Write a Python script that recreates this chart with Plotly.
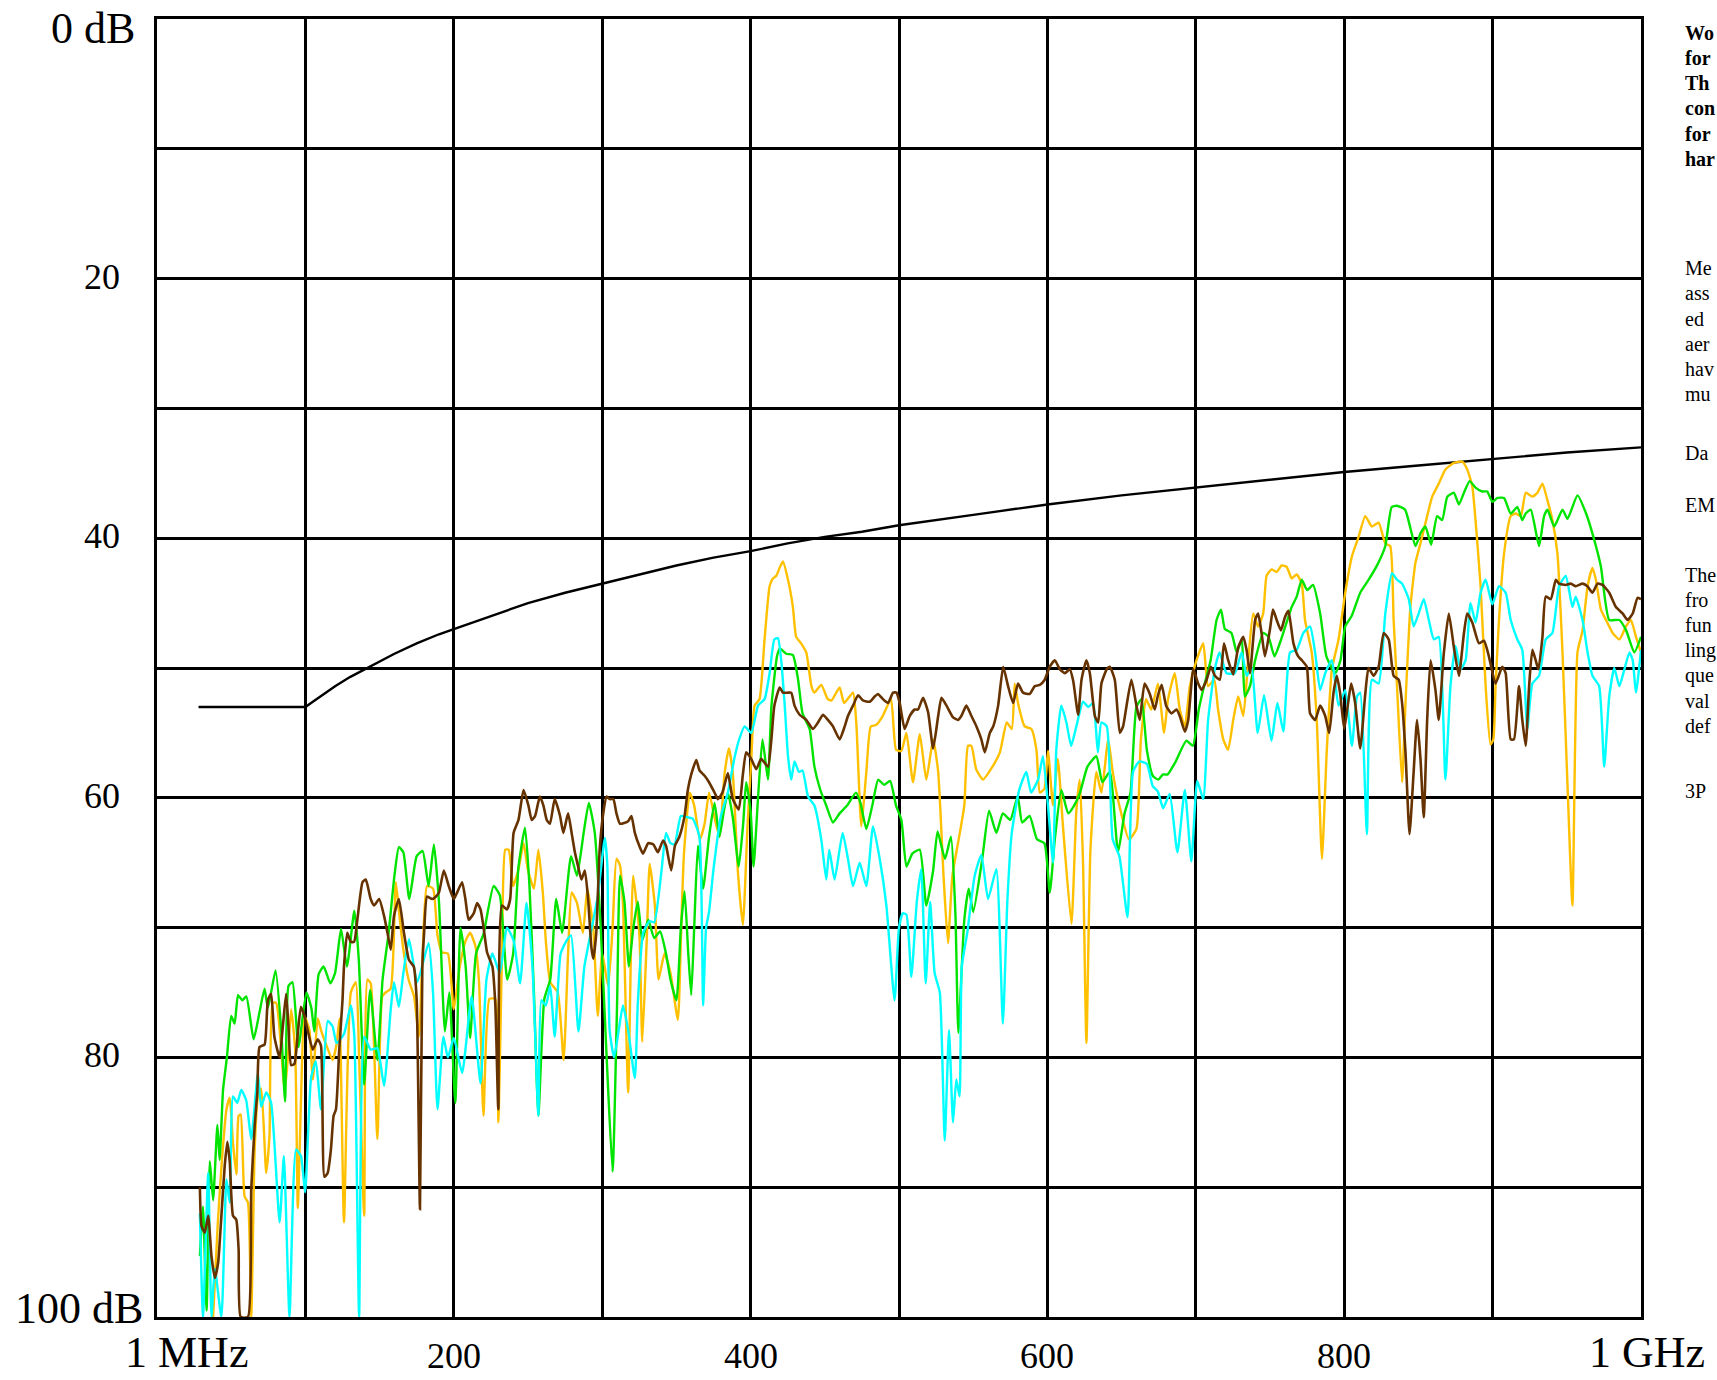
import plotly.graph_objects as go

# ---------------- data (frequency in MHz, attenuation in dB) ----------------
limit_pts = [(28, 53.0), (100, 53.0), (105, 52.6), (110, 52.2), (115, 51.8), (120, 51.4), (130, 50.7),
             (140, 50.1), (150, 49.5), (160, 48.9), (175, 48.1), (190, 47.4), (200, 47.0), (225, 46.0),
             (250, 45.0), (275, 44.2), (300, 43.5), (325, 42.8), (350, 42.1), (375, 41.5), (400, 41.0),
             (425, 40.4), (450, 39.9), (475, 39.5), (500, 39.0), (550, 38.2), (600, 37.4), (650, 36.7),
             (700, 36.1), (750, 35.5), (800, 34.9), (850, 34.4), (900, 33.9), (950, 33.4), (1000, 33.0)]

orange_pts = [(37.8,100),(41.0,92.7),(43.7,88.0),(46.8,84.0),(49.0,83.1),(51.2,86.6),(53.5,89.0),(55.0,84.5),
 (56.4,84.4),(59.0,90.7),(61.3,91.2),(63.5,100),(65.8,87.1),(68.0,83.0),(70.2,82.4),(73.6,88.9),(75.8,86.0),
 (78.0,75.8),(80.3,75.8),(83.7,79.4),(86.0,82.7),(88.2,80.0),(90.4,76.3),(93.1,79.4),(94.9,91.6),(97.1,83.0),
 (99.3,76.8),(102.7,77.9),(105.0,81.7),(108.3,77.0),(110.5,77.9),(113.9,79.0),(118.3,80.2),(121.0,79.0),
 (123.0,77.0),(126.0,92.7),(130.6,75.0),(134.0,74.2),(136.2,80.0),(139.6,92.2),(141.8,74.0),(144.0,74.3),
 (148.5,86.3),(151.8,75.3),(154.0,75.0),(157.5,74.7),(160.9,66.5),(163.0,68.7),(166.0,71.7),(169.5,74.0),
 (173.2,75.3),(176.5,78.4),(179.0,72.0),(182.0,66.8),(186.0,67.0),(189.0,70.6),(192.0,71.9),(196.0,72.0),
 (200.0,76.3),(204.0,73.0),(208.0,71.0),(211.0,70.4),(214.5,71.4),(217.0,74.2),(220.0,84.5),(224.0,75.5),
 (228.0,75.5),(230.0,85.0),(232.5,72.0),(234.7,64.0),(237.0,64.0),(240.0,66.8),(243.6,65.5),(247.0,63.5),
 (250.0,65.6),(254.0,67.0),(257.0,64.0),(260.0,67.3),(262.0,71.0),(265.0,74.2),(270.0,75.0),(274.0,80.2),
 (277.0,72.0),(279.4,67.3),(283.0,68.1),(287.0,70.4),(290.0,67.0),(294.0,70.1),(297.0,76.8),(300.0,72.0),
 (304.0,74.5),(307.0,70.0),(309.6,64.7),(312.0,65.2),(314.0,68.2),(317.5,82.7),(320.8,66.0),(325.0,70.4),
 (327.0,78.8),(330.0,71.0),(332.0,65.1),(335.5,68.3),(338.0,74.0),(342.0,72.0),(346.0,73.5),(351.0,77.1),
 (353.0,71.0),(355.0,64.5),(359.0,59.6),(362.0,60.6),(365.8,63.2),(369.0,62.0),(372.0,59.6),(375.5,61.4),
 (379.0,63.0),(382.5,58.1),(385.4,56.2),(388.0,58.1),(391.5,65.8),(394.8,69.8),(398.0,62.0),(400.5,57.0),
 (402.7,52.9),(406.0,52.4),(409.4,47.8),(412.8,43.7),(415.0,43.1),(417.3,42.9),(419.5,42.3),(421.8,41.8),
 (425.2,43.2),(428.5,45.3),(430.7,47.6),(434.0,48.1),(437.5,48.8),(441.0,51.4),(443.0,51.9),(447.6,51.3),
 (452.0,52.4),(454.5,52.5),(460.0,51.5),(463.0,52.7),(469.0,51.9),(471.2,54.2),(474.6,62.2),(478.0,58.0),
 (481.0,54.5),(484.5,54.4),(489.0,53.7),(494.6,52.4),(498.0,56.3),(501.5,56.4),(505.0,55.0),(509.4,58.8),
 (514.0,55.1),(518.4,58.6),(523.0,55.5),(526.4,58.0),(530.0,66.0),(533.0,71.2),(536.0,66.0),(541.0,62.7),
 (544.0,60.6),(546.5,56.0),(548.8,56.0),(552.0,57.8),(556.6,58.6),(563.0,57.6),(568.0,56.5),(572.6,54.2),
 (576.0,54.7),(578.0,51.2),(580.2,52.7),(584.7,54.5),(589.2,54.7),(592.6,56.3),(594.9,59.6),(598.0,59.3),
 (600.4,56.4),(603.8,60.6),(607.0,57.0),(610.5,62.2),(616.2,69.7),(619.5,61.0),(621.8,58.6),(624.0,65.0),
 (626.3,78.9),(629.0,64.0),(633.0,58.0),(636.4,59.6),(641.0,55.5),(644.0,58.0),(648.5,60.6),(655.0,63.2),
 (660.0,62.4),(663.0,55.5),(666.5,52.4),(670.0,53.2),(674.5,51.2),(678.6,55.0),(681.3,52.4),(685.8,50.4),
 (689.2,53.2),(692.6,54.5),(696.0,51.4),(700.5,49.4),(705.0,48.1),(708.3,51.4),(712.4,50.9),(715.0,53.2),
 (718.5,55.5),(721.8,56.3),(725.2,54.0),(728.6,52.2),(732.0,53.7),(735.3,49.4),(738.7,45.8),(742.0,46.8),
 (745.4,45.8),(747.7,42.9),(751.1,42.4),(754.5,42.6),(757.9,42.1),(761.2,42.2),(764.6,43.1),(768.0,42.8),
 (771.4,43.5),(773.6,46.3),(778.1,48.8),(781.5,54.0),(785.0,64.7),(788.2,56.5),(791.7,50.1),(796.2,47.8),
 (800.7,44.2),(805.2,41.4),(809.7,39.9),(814.2,38.3),(818.7,39.1),(823.2,38.8),(827.7,40.4),(831.0,40.6),
 (833.3,46.3),(835.6,51.4),(839.0,58.8),(841.3,52.7),(844.6,45.3),(848.0,41.9),(851.4,40.4),(855.9,38.3),
 (859.3,36.8),(863.7,35.8),(868.2,34.7),(873.9,34.2),(879.5,34.1),(882.9,34.7),(886.3,36.0),(888.5,38.6),
 (891.9,43.7),(895.3,51.4),(898.6,55.9),(900.5,55.5),(902.0,51.4),(904.3,46.3),(907.7,41.2),(912.2,38.3),
 (915.6,38.1),(919.0,38.3),(922.3,36.5),(926.8,36.8),(930.2,36.5),(933.6,35.8),(937.0,37.1),(940.3,38.6),
 (943.7,41.2),(947.1,48.8),(950.5,59.1),(953.8,68.3),(957.2,48.8),(960.6,47.1),(964.0,43.7),(967.3,42.3),
 (969.6,43.2),(973.0,45.5),(976.4,46.3),(980.9,47.3),(985.4,47.8),(989.9,46.8),(993.2,46.3),(996.6,47.6),
 (1000.0,48.8)]

green_pts = [(28.9,95.3),(31.0,91.5),(33.4,99.5),(35.6,88.0),(37.8,91.0),(40.7,85.2),(42.2,87.9),(44.5,82.5),
 (47.1,80.0),(50.0,76.8),(52.3,77.4),(54.6,75.2),(57.5,75.6),(60.2,75.3),(65.1,78.6),(69.1,76.5),(72.5,74.7),
 (74.7,76.2),(79.9,73.3),(83.7,77.9),(86.3,83.4),(88.6,74.5),(91.3,74.2),(95.3,79.2),(100.7,75.0),(104.0,76.2),
 (106.0,78.0),(108.9,73.6),(112.3,73.0),(116.8,74.3),(120.0,73.5),(124.0,70.1),(128.0,73.0),(133.0,68.7),
 (136.0,72.5),(139.6,82.1),(143.6,74.8),(148.5,80.2),(152.0,74.0),(156.0,70.5),(160.0,66.0),(163.0,63.8),
 (166.0,64.2),(170.0,67.8),(175.0,64.5),(179.0,64.1),(183.0,66.8),(186.6,63.6),(190.0,68.0),(194.0,78.0),
 (197.0,75.0),(201.0,83.5),(204.5,70.0),(208.0,73.0),(211.0,78.5),(215.0,72.0),(220.0,70.5),(226.8,66.8),
 (231.0,67.5),(236.0,74.0),(240.0,72.0),(243.6,65.3),(248.0,62.3),(251.0,66.8),(254.0,75.0),(257.0,84.5),
 (261.0,75.5),(265.0,74.0),(269.0,67.8),(273.0,70.4),(279.0,64.5),(283.0,66.0),(287.5,62.7),(291.0,60.4),
 (295.0,62.7),(299.0,70.0),(303.0,80.0),(307.0,88.8),(310.0,76.0),(312.0,66.0),(315.0,68.0),(318.0,73.0),
 (321.0,70.0),(324.0,68.0),(327.0,71.0),(331.0,69.4),(335.0,70.8),(339.0,70.3),(343.0,72.0),(346.0,74.0),
 (350.0,75.6),(353.0,70.0),(355.5,67.2),(358.0,72.0),(360.0,75.2),(362.0,70.0),(364.5,63.7),(368.0,67.0),
 (372.0,63.0),(375.7,60.4),(379.0,63.0),(382.0,61.0),(384.7,59.6),(388.0,61.5),(392.0,65.3),(395.0,62.0),
 (397.0,58.8),(400.0,61.0),(402.0,65.3),(405.0,60.0),(408.0,55.5),(411.7,58.6),(414.0,53.0),(417.8,49.1),
 (419.6,48.5),(424.0,48.9),(428.5,49.0),(432.0,50.9),(435.0,53.5),(439.8,54.7),(443.0,57.6),(447.0,59.4),
 (451.0,60.6),(455.5,61.9),(460.0,61.2),(465.0,60.6),(471.0,59.6),(474.0,60.4),(478.0,62.4),(482.0,60.6),
 (486.0,58.6),(490.0,59.0),(494.0,58.7),(498.0,60.6),(501.6,61.7),(505.0,65.3),(509.0,64.3),(514.0,64.0),
 (518.4,68.3),(523.0,65.6),(526.0,62.6),(531.0,64.7),(535.0,63.0),(538.0,68.9),(540.0,78.1),(544.0,69.4),
 (547.0,67.0),(550.0,68.8),(556.0,64.8),(560.7,61.0),(565.6,62.7),(570.0,61.2),(575.0,61.7),(580.0,59.9),
 (583.0,61.9),(588.0,61.4),(593.0,63.2),(598.0,63.5),(601.6,67.3),(605.0,63.2),(609.4,59.4),(614.0,61.2),
 (618.0,60.6),(622.0,59.6),(627.0,57.6),(633.0,56.8),(637.0,58.8),(642.0,58.0),(647.6,64.2),(652.0,61.2),
 (656.0,59.6),(660.0,53.0),(663.4,52.4),(667.0,56.3),(671.0,58.3),(674.6,58.6),(678.0,58.2),(681.0,58.2),
 (686.0,57.3),(693.7,55.6),(698.0,56.0),(702.0,53.2),(706.0,51.2),(710.0,49.4),(714.0,46.3),(717.0,45.5),
 (719.6,47.0),(724.0,47.3),(727.6,48.8),(731.0,47.8),(733.0,52.2),(736.5,51.4),(740.0,49.4),(745.5,47.3),
 (749.0,47.6),(753.0,49.1),(757.5,47.8),(764.6,45.3),(768.0,44.5),(771.4,43.2),(775.0,44.0),(779.0,43.6),
 (783.8,45.8),(788.0,49.1),(794.0,50.4),(797.5,49.4),(800.7,46.8),(805.0,46.0),(810.8,44.2),(816.5,43.2),
 (823.0,41.9),(827.7,40.6),(832.0,37.6),(835.5,37.5),(841.0,37.8),(848.0,40.6),(851.5,39.6),(854.7,39.1),
 (858.6,40.5),(862.6,38.3),(866.0,38.6),(869.5,36.8),(873.9,36.5),(877.3,37.4),(880.7,36.5),(884.5,35.6),
 (888.5,36.1),(893.0,36.4),(896.4,36.4),(899.8,37.2),(903.2,36.9),(907.7,36.9),(912.2,38.1),(916.7,37.6),
 (920.0,38.6),(922.3,38.1),(925.7,37.8),(931.3,40.6),(934.7,38.3),(937.0,37.8),(941.5,39.1),(947.1,37.8),
 (950.5,38.5),(957.2,36.7),(963.0,38.1),(969.6,40.6),(973.0,42.2),(978.6,46.3),(985.4,46.3),(990.0,47.1),
 (995.5,48.8),(1000.0,47.6)]

cyan_pts = [(28.9,92.0),(31.0,100),(34.5,88.9),(36.7,100),(39.0,96.3),(43.4,100),(46.8,89.4),(49.0,91.2),
 (51.2,83.0),(54.1,83.5),(56.8,82.5),(60.1,83.3),(63.5,86.3),(68.0,81.2),(70.2,83.8),(73.6,82.7),(76.9,83.5),
 (82.6,92.7),(85.5,87.6),(89.3,100),(93.7,87.1),(97.0,87.6),(99.8,90.4),(103.8,81.6),(107.0,80.3),(110.5,84.0),
 (115.0,77.2),(118.3,77.6),(121.0,78.9),(126.0,78.2),(130.6,76.0),(133.0,78.4),(136.2,100),(139.6,78.4),
 (144.0,79.4),(148.5,79.3),(153.0,82.2),(157.5,76.3),(159.7,74.2),(163.0,76.1),(166.0,73.5),(169.8,70.9),
 (175.4,74.2),(183.0,71.2),(186.0,75.0),(189.0,84.0),(193.0,78.4),(196.0,80.0),(200.0,78.5),(205.6,81.2),
 (212.0,75.3),(218.0,82.0),(222.0,74.0),(226.0,72.0),(231.0,73.5),(235.8,70.0),(240.3,71.0),(244.7,74.3),
 (249.0,68.1),(253.0,73.0),(257.0,84.5),(259.0,75.6),(262.0,76.0),(265.0,74.5),(268.0,78.4),(272.0,72.0),
 (276.0,71.0),(279.0,70.6),(284.0,78.0),(288.0,73.0),(293.0,70.0),(297.0,67.6),(301.8,63.1),(303.5,65.3),
 (305.0,77.9),(308.0,80.0),(311.0,78.0),(314.0,76.0),(317.5,77.9),(322.0,81.6),(324.0,75.8),(327.6,70.4),
 (332.0,69.5),(335.0,69.6),(339.8,65.8),(343.0,62.7),(346.0,63.5),(348.8,63.6),(353.0,61.4),(357.5,61.5),
 (361.0,61.6),(365.5,63.0),(368.0,76.0),(370.0,70.0),(372.0,68.8),(375.0,65.5),(380.0,61.4),(384.7,59.6),
 (389.0,57.0),(392.3,55.5),(396.0,54.5),(400.5,55.0),(405.0,52.9),(409.4,52.4),(412.8,50.4),(416.0,47.8),
 (418.4,47.7),(420.6,49.4),(423.0,52.9),(425.2,56.8),(427.4,58.6),(429.6,57.2),(432.6,58.0),(435.0,57.9),
 (438.7,59.9),(443.0,60.6),(447.6,63.2),(451.0,66.3),(453.0,64.0),(456.6,66.3),(462.0,62.7),(465.6,64.7),
 (469.0,66.8),(473.5,65.0),(478.0,66.8),(482.5,62.2),(487.0,64.7),(491.5,68.3),(497.0,75.6),(500.0,70.0),
 (502.5,68.9),(505.0,69.0),(508.3,73.8),(512.0,68.0),(515.0,65.5),(518.0,74.3),(521.0,68.0),(524.0,73.5),
 (527.5,75.0),(530.8,86.4),(533.7,77.9),(536.4,85.0),(538.6,81.7),(540.8,83.0),(542.3,73.0),(546.0,70.4),
 (551.0,66.0),(555.5,64.4),(560.0,67.8),(565.6,65.5),(570.0,77.4),(573.0,68.0),(576.0,62.7),(581.0,59.4),
 (585.8,58.0),(589.0,59.6),(593.7,58.6),(597.0,56.8),(600.4,60.6),(603.8,65.0),(606.0,56.3),(609.4,52.9),
 (612.8,54.2),(616.0,56.0),(619.5,54.5),(624.0,52.6),(627.5,53.0),(630.8,52.7),(634.0,56.5),(636.4,54.2),
 (640.0,54.5),(644.0,63.2),(648.5,64.5),(654.0,69.2),(657.7,58.0),(662.0,57.2),(667.0,57.4),(671.0,59.1),
 (674.4,59.5),(678.0,60.8),(682.4,59.7),(687.6,64.2),(692.6,59.4),(697.0,64.9),(701.0,58.7),(705.0,60.1),
 (708.3,54.0),(712.8,50.1),(716.0,48.8),(720.7,50.4),(726.3,50.4),(730.9,48.8),(734.3,50.6),(737.6,49.9),
 (741.7,55.0),(746.0,52.1),(751.0,55.6),(755.0,52.7),(759.0,54.9),(763.5,48.8),(768.0,48.6),(772.5,47.3),
 (777.0,46.8),(780.4,48.8),(783.8,51.7),(787.2,50.4),(791.7,49.4),(796.2,52.9),(800.7,51.7),(805.2,56.0),
 (808.6,52.2),(810.8,51.9),(815.3,62.8),(818.7,50.9),(823.2,51.2),(827.7,45.8),(832.2,42.7),(835.6,43.2),
 (839.0,43.5),(843.5,44.7),(846.8,46.8),(850.2,45.8),(853.6,44.7),(857.0,46.3),(860.4,47.8),(863.7,47.6),
 (868.2,58.6),(871.6,51.4),(875.0,48.3),(878.4,50.1),(881.8,49.4),(885.1,45.0),(888.5,46.5),(891.9,44.2),
 (895.3,43.2),(899.8,45.1),(904.3,43.7),(908.8,44.2),(912.2,46.3),(916.7,47.8),(920.0,48.6),(923.4,54.7),
 (926.8,51.2),(931.3,50.6),(935.8,47.8),(940.3,47.3),(944.8,43.7),(949.3,42.9),(953.8,45.3),(956.0,44.5),
 (960.6,46.3),(964.0,48.8),(967.3,50.6),(971.8,51.4),(975.2,57.6),(978.6,52.2),(982.0,50.0),(985.4,51.4),
 (988.8,50.1),(992.2,48.8),(994.4,49.4),(996.6,51.9),(1000.0,48.6)]

brown_pts = [(28.9,90.0),(30.0,93.0),(32.2,93.5),(34.5,92.2),(36.7,95.3),(39.0,97.0),(41.2,95.8),(43.4,92.2),
 (45.6,88.4),(47.4,86.5),(49.0,88.0),(51.2,92.2),(53.4,92.5),(55.0,94.8),(56.4,100),(61.3,100),(63.5,90.2),
 (65.8,85.3),(67.6,82.7),(69.1,79.2),(72.5,79.0),(74.7,75.6),(76.9,75.1),(79.1,78.4),(82.6,80.0),(84.8,77.6),
 (87.0,75.1),(88.6,77.6),(90.4,80.6),(92.6,80.5),(94.9,78.1),(97.0,76.1),(99.3,76.8),(101.5,77.9),(105.0,79.4),
 (108.3,78.6),(110.5,79.1),(112.8,89.2),(115.0,88.9),(117.2,87.1),(119.0,84.5),(120.6,84.0),(122.8,79.4),
 (125.0,75.6),(126.0,73.0),(128.2,70.4),(130.6,71.1),(132.8,71.1),(135.0,69.4),(138.5,66.5),(140.7,66.3),
 (144.0,67.8),(146.3,68.3),(149.7,67.8),(153.0,69.1),(155.3,70.4),(157.5,71.7),(159.7,69.1),(163.0,67.8),
 (166.4,70.4),(169.8,72.5),(173.0,73.0),(175.0,75.6),(177.2,91.7),(178.8,73.0),(180.0,70.4),(182.0,67.6),
 (185.4,67.8),(188.0,67.6),(190.0,67.3),(193.3,65.6),(196.6,66.8),(200.0,67.8),(202.2,67.3),(205.6,66.5),
 (207.8,67.8),(210.0,69.4),(213.4,68.9),(215.7,68.1),(218.0,68.6),(220.2,70.1),(222.4,71.9),(226.0,73.0),
 (228.0,76.0),(230.0,84.0),(232.4,68.3),(235.8,68.6),(238.0,67.8),(240.3,62.7),(243.6,61.7),(247.0,59.4),
 (250.3,60.6),(252.5,61.7),(254.8,61.4),(258.0,59.9),(260.4,60.6),(262.6,61.7),(264.8,62.0),(268.0,60.1),
 (271.6,61.4),(273.8,62.7),(277.0,61.2),(279.4,62.7),(281.6,64.2),(283.8,65.3),(286.0,66.3),(288.3,65.6),
 (290.5,67.8),(292.7,71.5),(294.0,72.4),(296.0,70.4),(298.3,64.0),(300.7,61.2),(303.0,59.9),(305.0,60.1),
 (307.5,60.1),(309.6,61.2),(312.0,62.0),(317.5,61.8),(319.7,61.4),(322.0,62.7),(325.0,63.7),(327.5,64.3),
 (331.0,63.5),(334.5,63.6),(337.5,64.2),(341.0,63.3),(343.0,63.7),(346.5,65.6),(349.0,63.7),(352.0,63.0),
 (355.5,61.4),(357.7,59.4),(360.0,58.2),(363.4,57.1),(365.6,57.9),(369.0,58.3),(372.0,58.8),(375.7,59.6),
 (378.0,60.1),(381.0,59.6),(384.7,58.1),(388.0,60.1),(392.0,60.9),(394.8,58.2),(397.0,56.5),(400.4,57.0),
 (403.8,57.8),(407.1,57.0),(411.7,57.6),(414.0,55.5),(416.0,52.9),(419.6,51.5),(421.8,51.9),(425.2,51.9),
 (427.4,51.9),(429.6,52.9),(433.0,53.6),(437.5,54.0),(442.0,54.7),(445.4,54.2),(448.8,53.6),(452.1,54.0),
 (455.5,54.5),(460.0,55.5),(463.4,54.5),(465.6,53.7),(469.0,52.9),(472.4,52.1),(475.7,52.5),(480.2,52.6),
 (483.6,52.2),(485.8,52.0),(489.2,52.4),(492.6,52.7),(496.0,51.9),(498.3,51.9),(500.5,52.7),(503.8,54.7),
 (507.2,53.7),(510.6,53.2),(512.8,53.2),(516.2,52.3),(519.6,53.4),(523.0,56.2),(526.4,53.7),(528.6,52.3),
 (532.0,52.9),(536.4,53.8),(539.8,54.0),(542.0,53.7),(545.4,52.9),(548.8,53.7),(552.2,54.5),(555.5,55.5),
 (557.8,56.5),(561.2,55.0),(563.5,54.5),(566.8,52.9),(570.2,49.9),(573.5,51.4),(576.9,52.7),(580.2,51.2),
 (583.6,51.9),(588.1,52.0),(591.5,51.4),(594.9,51.3),(598.2,50.9),(601.6,49.9),(605.0,49.4),(608.4,50.1),
 (611.8,50.4),(615.1,50.1),(617.4,51.0),(620.7,53.6),(623.0,50.9),(626.3,49.4),(628.6,50.4),(632.0,53.7),
 (634.2,54.2),(636.4,51.2),(640.0,50.1),(642.0,49.9),(645.4,50.9),(648.8,55.0),(651.0,54.5),(653.2,53.0),
 (656.6,50.9),(660.0,52.9),(662.2,54.0),(665.5,51.2),(669.0,52.0),(672.3,53.2),(674.5,52.1),(677.0,51.3),
 (680.0,52.9),(683.6,53.5),(687.0,53.2),(689.2,53.7),(692.6,54.9),(694.9,54.0),(698.3,50.1),(701.6,51.2),
 (703.9,51.7),(707.3,50.9),(710.2,49.9),(712.9,50.6),(716.2,50.9),(719.0,48.1),(721.8,49.4),(725.2,50.5),
 (728.6,48.4),(732.0,47.6),(734.2,48.6),(736.5,50.4),(740.0,46.3),(742.0,45.8),(744.3,47.3),(746.6,49.1),
 (750.0,47.0),(752.0,45.5),(754.5,46.3),(757.4,47.1),(760.0,46.1),(762.4,45.6),(765.8,48.1),(769.0,49.1),
 (771.4,49.4),(774.8,49.9),(777.0,53.5),(780.4,54.0),(783.8,52.9),(787.2,53.7),(789.9,55.0),(792.8,51.9),
 (795.0,50.6),(797.2,51.9),(800.0,54.7),(802.4,52.9),(804.7,51.2),(807.4,52.7),(810.8,56.2),(814.2,52.0),
 (816.4,50.0),(819.8,50.6),(823.2,49.9),(826.6,47.3),(830.0,47.8),(833.3,50.6),(836.7,50.9),(839.0,52.7),
 (841.3,56.5),(844.0,62.8),(846.8,58.0),(849.1,54.0),(851.4,57.0),(853.6,61.5),(855.9,54.0),(858.2,49.4),
 (861.5,51.7),(863.7,54.0),(867.1,48.9),(870.5,45.8),(873.9,48.4),(877.3,50.6),(880.7,47.3),(882.9,45.8),
 (886.3,46.5),(890.8,48.1),(894.2,47.9),(897.5,49.1),(902.0,51.2),(906.5,49.9),(908.8,50.4),(912.2,55.5),
 (914.4,55.5),(917.8,51.4),(920.0,54.0),(922.3,56.0),(924.6,51.4),(926.8,48.6),(929.0,49.4),(930.9,50.1),
 (933.6,47.6),(935.8,44.5),(939.2,44.7),(942.6,43.2),(944.8,43.5),(949.3,43.6),(952.7,43.5),(956.0,43.7),
 (960.6,43.5),(963.9,43.7),(967.3,44.2),(970.7,43.5),(974.1,43.6),(978.6,44.2),(983.1,45.3),(987.6,45.8),
 (991.0,46.3),(994.4,45.8),(997.7,44.6),(1000.0,44.7)]

y_tick_vals = [0, 20, 40, 60, 80, 100]
y_tick_text = ["0 dB", "20", "40", "60", "80", "100 dB"]
x_tick_vals = [0, 200, 400, 600, 800, 1000]
x_tick_text = ["1 MHz", "200", "400", "600", "800", "1 GHz"]

side_bold = ["Wo", "for", "Th", "con", "for", "har"]
side_text = ["Me", "ass", "ed", "aer", "hav", "mu", "Da", "EM",
             "The", "fro", "fun", "ling", "que", "val", "def", "3P"]

# ---------------- figure ----------------
W, H = 1717, 1380
L, R, T, B = 157, 76, 19, 63
PW, PH = W - L - R, H - T - B
FONT = "Liberation Serif, Times New Roman, serif"

def px_x(px):
    return (px - L) / PW

def px_y(py):
    return (H - B - py) / PH

fig = go.Figure()
series = [
    (limit_pts, "#000000", 2.4, "linear"),
    (orange_pts, "#FFC000", 2.4, "spline"),
    (green_pts, "#00E400", 2.4, "spline"),
    (cyan_pts, "#00FFFF", 2.4, "spline"),
    (brown_pts, "#663300", 2.6, "spline"),
]
for pts, col, wdt, shp in series:
    line = dict(color=col, width=wdt, shape=shp)
    if shp == "spline":
        line["smoothing"] = 0.5
    fig.add_trace(go.Scatter(
        x=[p[0] for p in pts], y=[p[1] for p in pts], mode="lines",
        line=line, hoverinfo="skip", showlegend=False))

ann = []
# y labels
y_sizes = {0: 44, 100: 44}
y_right = {0: 137, 100: 145}
y_center = {0: 29, 100: 1308}
for v, t in zip(y_tick_vals, y_tick_text):
    size = y_sizes.get(v, 36)
    right = y_right.get(v, 122)
    if v in y_center:
        ann.append(dict(x=px_x(right), y=px_y(y_center[v]), xref="paper", yref="paper",
                        text=t, showarrow=False, xanchor="right", yanchor="middle",
                        font=dict(family=FONT, size=size, color="black")))
    else:
        ann.append(dict(x=px_x(right), y=v, xref="paper", yref="y", yshift=2,
                        text=t, showarrow=False, xanchor="right", yanchor="middle",
                        font=dict(family=FONT, size=size, color="black")))
# x labels
for v, t in zip(x_tick_vals, x_tick_text):
    if v == 0:
        ann.append(dict(x=px_x(186), y=px_y(1379), xref="paper", yref="paper", text=t,
                        showarrow=False, xanchor="center", yanchor="bottom",
                        font=dict(family=FONT, size=44, color="black")))
    elif v == 1000:
        ann.append(dict(x=px_x(1707), y=px_y(1379), xref="paper", yref="paper", text=t,
                        showarrow=False, xanchor="right", yanchor="bottom",
                        font=dict(family=FONT, size=44, color="black")))
    else:
        ann.append(dict(x=v, y=px_y(1356), xref="x", yref="paper", text=t,
                        showarrow=False, xanchor="center", yanchor="middle",
                        font=dict(family=FONT, size=36, color="black")))

# side note text (cut by the page edge)
bold_y = [33, 58, 83, 108, 134, 159]
text_y = [268, 293, 319, 344, 369, 394, 453, 505, 575, 600, 625, 650, 676, 701, 726, 791]
for t, yy in zip(side_bold, bold_y):
    ann.append(dict(x=px_x(1683), y=px_y(yy), xref="paper", yref="paper", text="<b>" + t + "</b>",
                    showarrow=False, xanchor="left", yanchor="middle",
                    font=dict(family=FONT, size=20, color="black")))
for t, yy in zip(side_text, text_y):
    ann.append(dict(x=px_x(1683), y=px_y(yy), xref="paper", yref="paper", text=t,
                    showarrow=False, xanchor="left", yanchor="middle",
                    font=dict(family=FONT, size=20, color="black")))

axis_common = dict(showgrid=True, gridcolor="black", gridwidth=2.5, zeroline=False,
                   showline=True, linecolor="black", linewidth=3, mirror=True,
                   showticklabels=False, ticks="", fixedrange=True)
fig.update_layout(
    width=W, height=H, autosize=False,
    margin=dict(l=L, r=R, t=T, b=B, pad=0),
    paper_bgcolor="white", plot_bgcolor="white",
    xaxis=dict(range=[0, 1000], tick0=0, dtick=100, **axis_common),
    yaxis=dict(range=[100, 0], tick0=0, dtick=10, **axis_common),
    annotations=ann,
    showlegend=False,
)

fig.write_html("out.html", config={"displayModeBar": False},
               post_script="document.body.style.margin='0';document.body.style.overflow='hidden';")
